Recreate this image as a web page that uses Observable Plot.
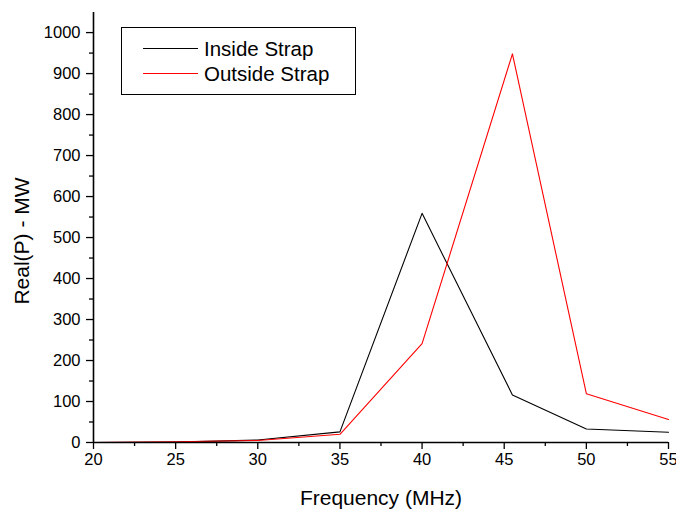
<!DOCTYPE html>
<html><head><meta charset="utf-8">
<script src="https://cdn.jsdelivr.net/npm/d3@7"></script>
<script src="https://cdn.jsdelivr.net/npm/@observablehq/plot@0.6"></script>
<style>
body{margin:0;background:#fff;font-family:"Liberation Sans",Arial,Helvetica,sans-serif}
#wrap{position:relative;width:676px;height:509px;overflow:hidden}
.abs{position:absolute;white-space:nowrap;color:#000}
#legend{position:absolute;left:121px;top:27px;width:235px;height:68px;border:1px solid #000;background:#fff;box-sizing:border-box}
.sw{position:absolute;height:1px;width:55px}
.lt{position:absolute;font-size:20.5px;line-height:1}
</style></head>
<body>
<div id="wrap"></div>
<script>
const freq = [20, 25, 30, 35, 40, 45.5, 50, 55];
const insideStrap = [0, 1, 6, 26, 559, 116, 33, 25];
const outsideStrap = [0, 2, 5, 20, 241, 948, 119, 56];
const seriesNames = ["Inside Strap", "Outside Strap"];
const seriesColors = ["#000000", "#ff0000"];
const xTicks = [20, 25, 30, 35, 40, 45, 50, 55];
const xMinor = [22.5, 27.5, 32.5, 37.5, 42.5, 47.5, 52.5];
const yTicks = [0, 100, 200, 300, 400, 500, 600, 700, 800, 900, 1000];
const yMinor = [50, 150, 250, 350, 450, 550, 650, 750, 850, 950, 1050];
const xLabel = "Frequency (MHz)";
const yLabel = "Real(P) - MW";

const data = [];
[insideStrap, outsideStrap].forEach((vals, s) => {
  vals.forEach((v, i) => data.push({series: seriesNames[s], x: freq[i], y: v}));
});

const fmt = d => String(d);
const chart = Plot.plot({
  width: 676, height: 509,
  marginLeft: 93, marginRight: 8, marginTop: 12, marginBottom: 67,
  style: {fontFamily: '"Liberation Sans", Arial, sans-serif', background: "#fff", color: "#000", overflow: "visible"},
  x: {domain: [20, 55]},
  y: {domain: [0, 1049]},
  color: {domain: seriesNames, range: seriesColors},
  marks: [
    Plot.axisX({ticks: xTicks, tickFormat: fmt, tickSize: 7, tickPadding: 4, fontSize: 16.5, label: null, stroke: "#000", strokeWidth: 1.3}),
    Plot.axisX({ticks: xMinor, tickSize: 4, text: null, label: null, stroke: "#000", strokeWidth: 1.3}),
    Plot.axisY({ticks: yTicks, tickFormat: fmt, tickSize: 7, tickPadding: 6, fontSize: 16.5, label: null, stroke: "#000", strokeWidth: 1.3}),
    Plot.axisY({ticks: yMinor.filter(v => v <= 1049), tickSize: 4, text: null, label: null, stroke: "#000", strokeWidth: 1.3}),
    Plot.line(data, {x: "x", y: "y", z: "series", stroke: "series", strokeWidth: 1.1}),
    Plot.ruleY([0], {stroke: "#000", strokeWidth: 1.6}),
    Plot.ruleX([20], {y1: 0, y2: 1049, stroke: "#000", strokeWidth: 1.6})
  ]
});
const wrap = document.getElementById("wrap");
wrap.appendChild(chart);

const xl = document.createElement("div");
xl.className = "abs"; xl.textContent = xLabel;
xl.style.cssText += "font-size:21px;left:381px;top:487px;transform:translateX(-50%);line-height:1";
wrap.appendChild(xl);

const yl = document.createElement("div");
yl.className = "abs"; yl.textContent = yLabel;
yl.style.cssText += "font-size:21px;left:21px;top:241px;transform:translate(-50%,-50%) rotate(-90deg);line-height:1";
wrap.appendChild(yl);

const lg = document.createElement("div");
lg.id = "legend";
seriesNames.forEach((name, i) => {
  const sw = document.createElement("div");
  sw.className = "sw";
  sw.style.left = "21px"; sw.style.top = (20 + i * 25) + "px";
  sw.style.background = seriesColors[i];
  lg.appendChild(sw);
  const t = document.createElement("div");
  t.className = "lt"; t.textContent = name;
  t.style.left = "82px"; t.style.top = (11 + i * 25) + "px";
  lg.appendChild(t);
});
wrap.appendChild(lg);
</script>
</body></html>
